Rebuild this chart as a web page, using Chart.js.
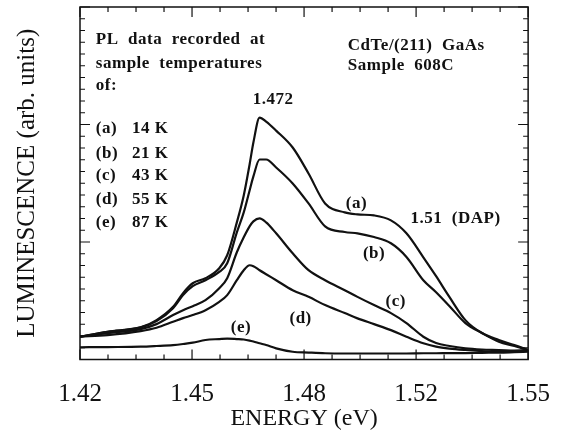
<!DOCTYPE html>
<html><head><meta charset="utf-8">
<script src="https://cdn.jsdelivr.net/npm/chart.js@4.4.1/dist/chart.umd.min.js"></script>
<style>html,body{margin:0;padding:0;background:#fff;}canvas{display:block;}</style>
</head><body>
<canvas id="c" width="570" height="437"></canvas>
<script>
// ---- data ----
const energy = [1.4200,1.4280,1.4376,1.4422,1.4470,1.4499,1.4527,1.4564,1.4604,1.4627,1.4655,1.4675,1.4692,1.4703,1.4721,1.4740,1.4769,1.4817,1.4863,1.4911,1.4968,1.5005,1.5053,1.5102,1.5147,1.5196,1.5233,1.5272,1.5318,1.5366,1.5415,1.5460,1.5500];
const curveA = [1.94,2.36,2.73,3.35,4.48,5.65,6.49,6.92,7.77,8.87,11.67,13.96,16.60,18.46,20.59,20.25,19.48,18.04,15.83,13.28,12.52,12.35,12.26,11.84,10.74,8.70,7.09,5.31,3.35,2.25,1.66,1.23,0.81];
const curveB = [1.94,2.36,2.73,3.27,4.37,5.48,6.24,6.75,7.45,8.19,10.82,12.52,14.39,15.58,17.02,17.02,16.34,14.98,13.28,11.33,10.85,10.74,10.42,9.89,8.73,6.75,5.73,4.54,3.10,2.25,1.51,1.15,0.81];
const curveC = [1.94,2.25,2.59,3.01,3.78,4.20,4.54,5.05,6.07,6.92,9.13,10.40,11.33,11.76,12.01,11.67,10.74,9.04,7.60,6.75,5.90,5.33,4.63,3.95,3.10,1.94,1.40,1.15,0.95,0.85,0.81,0.76,0.75];
const curveD = [1.94,2.08,2.42,2.70,3.21,3.52,3.78,4.20,4.91,5.48,6.75,7.60,8.02,7.94,7.60,7.26,6.75,5.90,5.33,4.63,3.95,3.50,3.01,2.50,1.94,1.38,1.10,0.93,0.81,0.72,0.66,0.72,0.81];
const curveE = [1.04,1.06,1.09,1.15,1.23,1.32,1.43,1.66,1.74,1.78,1.74,1.70,1.61,1.53,1.38,1.23,0.95,0.66,0.59,0.53,0.51,0.51,0.51,0.51,0.51,0.53,0.53,0.55,0.55,0.57,0.58,0.62,0.66];
const curveKeys = ['(a)','(b)','(c)','(d)','(e)'];
const temperatures = ['14 K','21 K','43 K','55 K','87 K'];
const xTickValues = [1.42,1.4525,1.485,1.5175,1.55];
const xTickLabels = ['1.42','1.45','1.48','1.52','1.55'];

// ---- annotation placement (data coordinates) ----
const INK = '#111';
const annotations = [
  {t:'PL  data  recorded  at', x:1.4246, y:27.2, a:'left'},
  {t:'sample  temperatures', x:1.4246, y:25.15, a:'left'},
  {t:'of:', x:1.4246, y:23.3, a:'left'},
  {t:'1.472', x:1.4760, y:22.1, a:'center'},
  {t:'CdTe/(211)  GaAs', x:1.4977, y:26.7, a:'left'},
  {t:'Sample  608C', x:1.4977, y:25.0, a:'left'},
  {t:curveKeys[0], x:1.5002, y:13.3, a:'center'},
  {t:'1.51  (DAP)', x:1.5159, y:12.0, a:'left'},
  {t:curveKeys[1], x:1.5053, y:9.05, a:'center'},
  {t:curveKeys[2], x:1.5116, y:4.9, a:'center'},
  {t:curveKeys[3], x:1.4840, y:3.5, a:'center'},
  {t:curveKeys[4], x:1.4667, y:2.75, a:'center'}
];
const legendY = [19.65,17.55,15.65,13.62,11.67];
curveKeys.forEach((k,i)=>{
  annotations.push({t:k, x:1.4246, y:legendY[i], a:'left'});
  annotations.push({t:temperatures[i], x:1.4351, y:legendY[i], a:'left'});
});

const framePlugin = {
  id:'frame',
  afterDatasetsDraw(chart){
    const {ctx, chartArea:{left,right,top,bottom}, scales:{x,y}} = chart;
    ctx.save();
    ctx.strokeStyle = INK; ctx.lineWidth = 1.5;
    ctx.strokeRect(left, top, right-left, bottom-top);
    ctx.lineWidth = 1.2;
    const xs = 0.13/16;
    for (let i=0;i<=16;i++){
      const px = x.getPixelForValue(1.42 + i*xs);
      const L = (i%4===0) ? 10 : 5;
      ctx.beginPath();
      ctx.moveTo(px,bottom); ctx.lineTo(px,bottom-L);
      ctx.moveTo(px,top); ctx.lineTo(px,top+L);
      ctx.stroke();
    }
    for (let v=0; v<=30; v++){
      const py = y.getPixelForValue(v);
      const L = (v%10===0) ? 10 : 5;
      ctx.beginPath();
      ctx.moveTo(left,py); ctx.lineTo(left+L,py);
      ctx.moveTo(right,py); ctx.lineTo(right-L,py);
      ctx.stroke();
    }
    ctx.fillStyle = INK;
    ctx.font = 'bold 17px "Liberation Serif"';
    try { ctx.letterSpacing = '0.5px'; } catch(e) {}
    ctx.textBaseline = 'middle';
    for (const an of annotations){
      ctx.textAlign = an.a;
      ctx.fillText(an.t, x.getPixelForValue(an.x), y.getPixelForValue(an.y));
    }
    ctx.restore();
  }
};

const mk = (arr)=> energy.map((e,i)=>({x:e, y:arr[i]}));
const ds = [curveA,curveB,curveC,curveD,curveE].map((arr,i)=>({
  label: curveKeys[i] + ' ' + temperatures[i],
  data: mk(arr),
  borderColor: INK, borderWidth: 2.2, pointRadius: 0,
  tension: 0.35, cubicInterpolationMode: 'monotone', fill: false
}));

new Chart(document.getElementById('c'), {
  type:'line',
  data:{datasets: ds},
  options:{
    responsive:false, animation:false, devicePixelRatio:1,
    layout:{padding:{left:0, right:33, top:7, bottom:0}},
    plugins:{legend:{display:false}, tooltip:{enabled:false}},
    scales:{
      x:{
        type:'linear', min:1.42, max:1.55,
        afterBuildTicks(s){ s.ticks = xTickValues.map(v=>({value:v})); },
        afterFit(s){ s.height = 77.5; },
        grid:{display:false, drawTicks:false},
        border:{display:false},
        ticks:{
          color:INK, padding:20, maxRotation:0, autoSkip:false,
          font:{family:'"Liberation Serif"', size:25},
          callback(v, i){ return xTickLabels[i]; }
        },
        title:{display:true, text:'ENERGY (eV)', color:INK,
          font:{family:'"Liberation Serif"', size:24}, padding:{top:0,bottom:4}}
      },
      y:{
        min:0, max:30,
        afterFit(s){ s.width = 80; },
        grid:{display:false, drawTicks:false},
        border:{display:false},
        ticks:{display:false},
        title:{display:true, text:'LUMINESCENCE (arb. units)', color:INK,
          font:{family:'"Liberation Serif"', size:25}, padding:{top:12,bottom:0}}
      }
    }
  },
  plugins:[framePlugin]
});
</script>
</body></html>
